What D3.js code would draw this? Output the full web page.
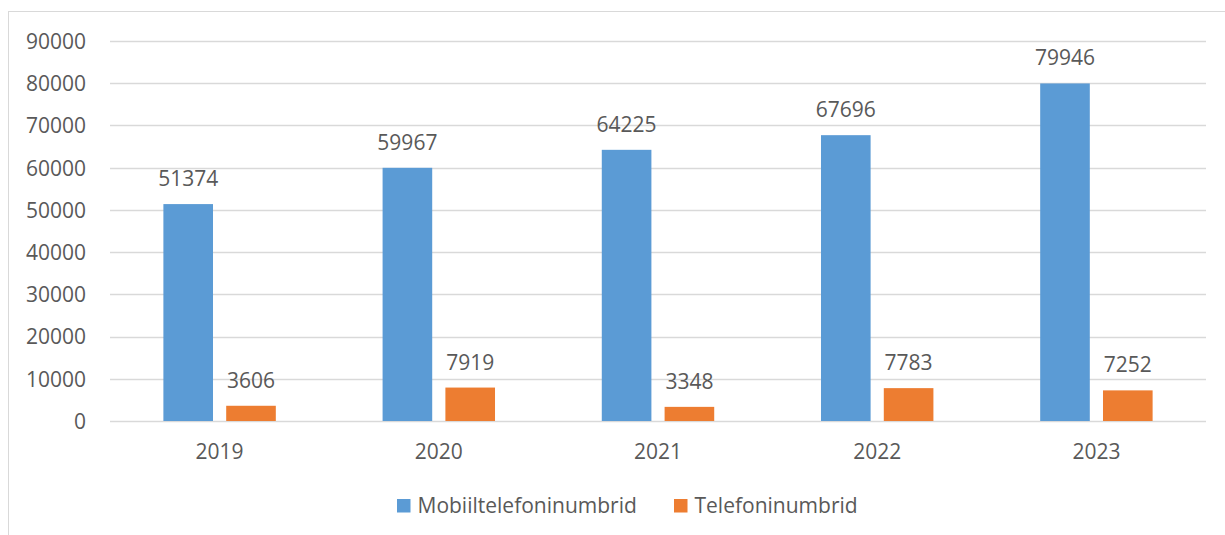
<!DOCTYPE html>
<html>
<head>
<meta charset="utf-8">
<script src="https://cdn.jsdelivr.net/npm/d3@7"></script>
<style>
  html, body { margin: 0; padding: 0; background: #fff; }
  svg { display: block; }
  text { font-family: "Open Sans", "Liberation Sans", sans-serif; fill: #595959; }
</style>
</head>
<body>
<svg id="chart" width="1225" height="535"></svg>
<script>
const years = ["2019", "2020", "2021", "2022", "2023"];
const seriesNames = ["Mobiiltelefoninumbrid", "Telefoninumbrid"];
const mobile = [51374, 59967, 64225, 67696, 79946];
const phone = [3606, 7919, 3348, 7783, 7252];
const yTicks = [0, 10000, 20000, 30000, 40000, 50000, 60000, 70000, 80000, 90000];
const colors = ["#5B9BD5", "#ED7D31"];

const seriesValues = [mobile, phone];
const svg = d3.select("#chart");
const fs = "21px";

// outer border
svg.append("rect")
  .attr("x", 8.5).attr("y", 11.5)
  .attr("width", 1230).attr("height", 540)
  .attr("fill", "none").attr("stroke", "#d9d9d9").attr("stroke-width", 1);

const plotLeft = 110, plotRight = 1206, plotTop = 41, plotBottom = 421;

const y = d3.scaleLinear().domain([0, 90000]).range([plotBottom, plotTop]);
const x0 = d3.scaleBand().domain(years).range([plotLeft, plotRight]).padding(0);
const x1 = d3.scaleBand().domain(seriesNames).range([0, x0.bandwidth()])
  .paddingInner(0.21).paddingOuter(0.85);

// gridlines
svg.append("g").selectAll("line").data(yTicks).join("line")
  .attr("x1", plotLeft).attr("x2", plotRight)
  .attr("y1", d => Math.round(y(d)) + 0.5).attr("y2", d => Math.round(y(d)) + 0.5)
  .attr("stroke", "#d9d9d9").attr("stroke-width", 1.3);

// y axis labels
const yAxis = d3.axisLeft(y).tickValues(yTicks).tickSize(0).tickPadding(0).tickFormat(d3.format("d"));
const gy = svg.append("g").attr("transform", `translate(86,0)`).call(yAxis);
gy.select(".domain").remove();
gy.selectAll("text").style("font-size", fs).attr("fill", "#595959")
  .style("font-family", '"Open Sans", sans-serif').attr("dy", "0.35em");

// x axis labels
const xAxis = d3.axisBottom(x0).tickSize(0).tickPadding(0);
const gx = svg.append("g").attr("transform", `translate(0,${plotBottom})`).call(xAxis);
gx.select(".domain").remove();
gx.selectAll("text").style("font-size", fs).attr("fill", "#595959")
  .style("font-family", '"Open Sans", sans-serif').attr("y", 31).attr("dy", "0.35em");

// bars
const data = [];
years.forEach((yr, i) => {
  seriesNames.forEach((s, j) => {
    data.push({ year: yr, series: s, value: seriesValues[j][i], color: colors[j] });
  });
});

svg.append("g").selectAll("rect").data(data).join("rect")
  .attr("x", d => x0(d.year) + x1(d.series))
  .attr("width", x1.bandwidth())
  .attr("y", d => y(d.value))
  .attr("height", d => y(0) - y(d.value))
  .attr("fill", d => d.color);

// value labels
svg.append("g").selectAll("text").data(data).join("text")
  .attr("x", d => x0(d.year) + x1(d.series) + x1.bandwidth() / 2)
  .attr("y", d => y(d.value) - 18)
  .attr("text-anchor", "middle")
  .style("font-size", fs)
  .text(d => d.value);

// legend
const legendItems = [
  { name: seriesNames[0], color: colors[0], x: 397 },
  { name: seriesNames[1], color: colors[1], x: 674 }
];
const lg = svg.append("g");
legendItems.forEach(it => {
  lg.append("rect").attr("x", it.x).attr("y", 499).attr("width", 13.5).attr("height", 13.5).attr("fill", it.color);
  lg.append("text").attr("x", it.x + 20.5).attr("y", 506).attr("dy", "0.35em")
    .style("font-size", fs).text(it.name);
});
</script>
</body>
</html>
